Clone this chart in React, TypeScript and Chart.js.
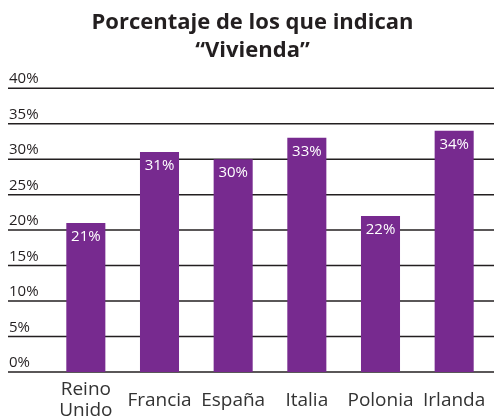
import React, { useEffect, useRef } from "react";
import { Chart, registerables } from "chart.js";

Chart.register(...registerables);

const titleLines = ["Porcentaje de los que indican", "“Vivienda”"];
const categories: (string | string[])[] = [["Reino", "Unido"], "Francia", "España", "Italia", "Polonia", "Irlanda"];
const values = [21, 31, 30, 33, 22, 34];
const yMin = 0;
const yMax = 40;
const yStep = 5;

const FONT = "'Open Sans', 'Noto Sans', sans-serif";
const TEXT = "#231f20";
const BAR = "#772a8f";

const gridPlugin = {
  id: "leftGrid",
  beforeDatasetsDraw(chart: any) {
    const { ctx } = chart;
    const y = chart.scales.y;
    ctx.save();
    ctx.strokeStyle = TEXT;
    ctx.lineWidth = 1.5;
    ctx.fillStyle = TEXT;
    ctx.font = `15px ${FONT}`;
    ctx.textAlign = "left";
    ctx.textBaseline = "alphabetic";
    for (const t of y.ticks) {
      const py = y.getPixelForValue(t.value);
      ctx.beginPath();
      ctx.moveTo(8, py);
      ctx.lineTo(chart.width, py);
      ctx.stroke();
      ctx.fillText(t.value + "%", 9, py - 5);
    }
    ctx.restore();
  },
};

const labelPlugin = {
  id: "barLabels",
  afterDatasetsDraw(chart: any) {
    const { ctx } = chart;
    const meta = chart.getDatasetMeta(0);
    ctx.save();
    ctx.fillStyle = "#ffffff";
    ctx.font = `15px ${FONT}`;
    ctx.textAlign = "center";
    ctx.textBaseline = "middle";
    meta.data.forEach((bar: any, i: number) => {
      ctx.fillText(values[i] + "%", bar.x, bar.y + 14);
    });
    ctx.restore();
  },
};

export default function App() {
  const ref = useRef<HTMLCanvasElement | null>(null);
  useEffect(() => {
    if (!ref.current) return;
    const chart = new Chart(ref.current, {
      type: "bar",
      data: {
        labels: categories,
        datasets: [
          {
            data: values,
            backgroundColor: BAR,
            borderWidth: 0,
            barPercentage: 0.53,
            categoryPercentage: 1,
          },
        ],
      },
      plugins: [gridPlugin, labelPlugin],
      options: {
        animation: false,
        responsive: true,
        maintainAspectRatio: false,
        layout: { padding: { left: 14, right: 3, top: 0, bottom: 0 } },
        plugins: {
          legend: { display: false },
          tooltip: { enabled: false },
          title: {
            display: true,
            text: titleLines,
            color: TEXT,
            font: { family: FONT, size: 22, weight: "bold", lineHeight: 1.3 },
            padding: { top: 8, bottom: 23 },
          },
        },
        scales: {
          x: {
            grid: { display: false, drawTicks: false },
            border: { display: false },
            ticks: {
              color: "#333333",
              font: { family: FONT, size: 19, lineHeight: 1.1 },
              padding: 18,
              maxRotation: 0,
              autoSkip: false,
              crossAlign: "center",
            },
            afterFit: (s: any) => {
              s.height = 47;
              s.paddingLeft = 0;
              s.paddingRight = 0;
            },
          },
          y: {
            min: yMin,
            max: yMax,
            ticks: { stepSize: yStep, display: false },
            grid: { display: false, drawTicks: false },
            border: { display: false },
            afterFit: (s: any) => {
              s.width = 35;
            },
          },
        },
      },
    });
    return () => chart.destroy();
  }, []);
  return (
    <div style={{ position: "fixed", left: 0, top: 0, width: 494, height: 419, background: "#fff" }}>
      <canvas ref={ref} />
    </div>
  );
}
